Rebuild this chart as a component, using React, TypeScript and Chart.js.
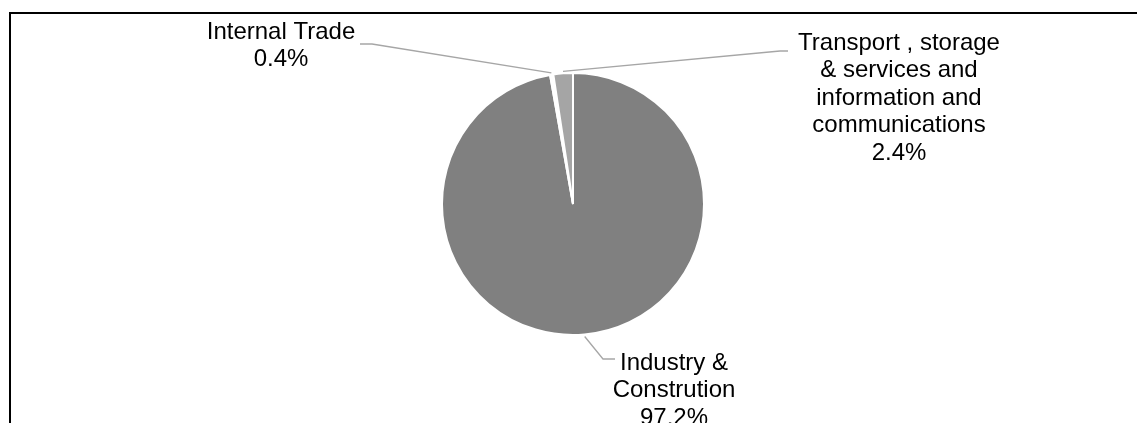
import React, { useEffect, useRef } from "react";
import { Chart, registerables } from "chart.js";

Chart.register(...registerables);

// ---- data ----
const categories = [
  "Industry & Constrution",
  "Internal Trade",
  "Transport , storage & services and information and communications",
];
const categoryLabelLines = [
  ["Industry &", "Constrution"],
  ["Internal Trade"],
  ["Transport , storage", "& services and", "information and", "communications"],
];
const shares = [97.2, 0.4, 2.4];
const shareLabels = ["97.2%", "0.4%", "2.4%"];

// ---- styles / layout ----
const sliceColors = ["#808080", "#FFFFFF", "#A5A5A5"];
const FONT = '24px "Liberation Sans", Arial, sans-serif';
const LINE_H = 27.5;
const labelLayout = [
  { knee: [603, 359], end: [615, 359], textX: 674, textY: 363 },
  { knee: [372, 44], end: [360, 44], textX: 281, textY: 32 },
  { knee: [780, 51], end: [788, 51], textX: 899, textY: 43 },
];

const framePlugin = {
  id: "frame",
  beforeDraw(chart: any) {
    const ctx = chart.ctx;
    ctx.save();
    ctx.fillStyle = "#FFFFFF";
    ctx.fillRect(0, 0, chart.width, chart.height);
    ctx.fillStyle = "#000000";
    ctx.fillRect(9, 12, 2, chart.height - 12);
    ctx.fillRect(9, 12, chart.width - 9, 2);
    ctx.restore();
  },
};

const labelPlugin = {
  id: "pieLabels",
  afterDraw(chart: any) {
    const ctx = chart.ctx;
    const meta = chart.getDatasetMeta(0);
    ctx.save();
    meta.data.forEach((arc: any, i: number) => {
      const p = arc.getProps(["x", "y", "startAngle", "endAngle", "outerRadius"], true);
      const mid = (p.startAngle + p.endAngle) / 2;
      const r = p.outerRadius + 2;
      const sx = p.x + Math.cos(mid) * r;
      const sy = p.y + Math.sin(mid) * r;
      const lay = labelLayout[i];
      ctx.strokeStyle = "#A6A6A6";
      ctx.lineWidth = 1.3;
      ctx.beginPath();
      ctx.moveTo(sx, sy);
      ctx.lineTo(lay.knee[0], lay.knee[1]);
      ctx.lineTo(lay.end[0], lay.end[1]);
      ctx.stroke();

      const lines = [...categoryLabelLines[i], shareLabels[i]];
      ctx.fillStyle = "#000000";
      ctx.font = FONT;
      ctx.textAlign = "center";
      ctx.textBaseline = "middle";
      lines.forEach((t, k) => {
        ctx.fillText(t, lay.textX, lay.textY + k * LINE_H);
      });
    });
    ctx.restore();
  },
};

export default function App() {
  const ref = useRef<HTMLCanvasElement | null>(null);
  useEffect(() => {
    if (!ref.current) return;
    const chart = new Chart(ref.current, {
      type: "pie",
      data: {
        labels: categories,
        datasets: [
          {
            data: shares,
            backgroundColor: sliceColors,
            borderColor: "#FFFFFF",
            borderWidth: 2,
          },
        ],
      },
      options: {
        responsive: false,
        animation: false,
        devicePixelRatio: 1,
        layout: { padding: { left: 441, right: 432, top: 71, bottom: 86 } },
        plugins: {
          legend: { display: false },
          tooltip: { enabled: false },
        },
      },
      plugins: [framePlugin, labelPlugin],
    });
    return () => chart.destroy();
  }, []);
  return (
    <div style={{ position: "absolute", left: 0, top: 0, width: 1137, height: 423 }}>
      <canvas ref={ref} width={1137} height={423} style={{ display: "block" }} />
    </div>
  );
}
